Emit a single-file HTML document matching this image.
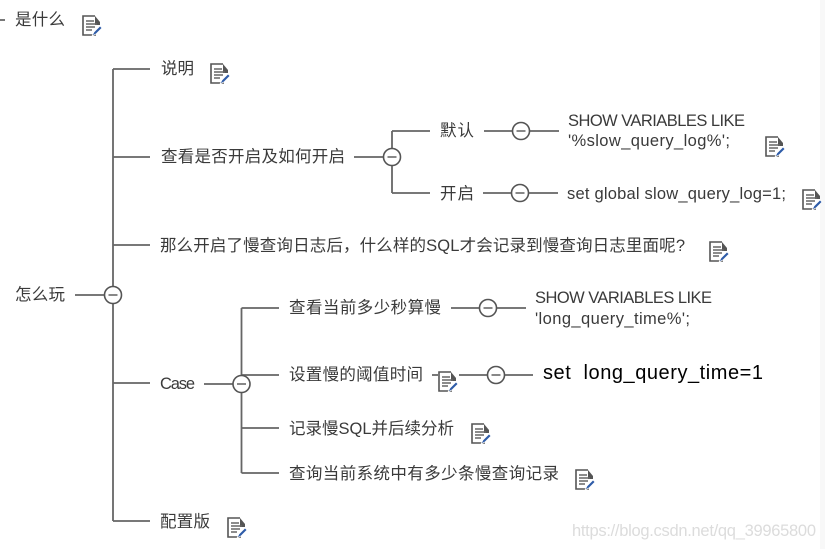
<!DOCTYPE html>
<html><head><meta charset="utf-8"><style>
html,body{margin:0;padding:0;background:#fff;width:825px;height:549px;overflow:hidden}
svg{display:block}
text{font-family:"Liberation Sans","Noto Sans CJK SC",sans-serif;font-size:16.5px;fill:#3a3a3a}
.l{stroke:#666;stroke-width:1.8;fill:none}
.c{fill:#fff;stroke:#555;stroke-width:1.6}
.m{stroke:#555;stroke-width:1.4}
</style></head><body>
<svg width="825" height="549" viewBox="0 0 825 549" xmlns="http://www.w3.org/2000/svg">
<defs>
<g id="i">
<path d="M13 1H1V20H14" fill="#fff" stroke="#555" stroke-width="1.6"/>
<path d="M13 1L18 7V10H13Z" fill="#555"/>
<path d="M4 6H12M4 9H15M4 12H13M4 15H10" stroke="#666" stroke-width="1.4"/>
<path d="M10 21L12 17L18 11L20 13L14 19Z" fill="#2f5ca8" stroke="#fff" stroke-width=".7"/>
</g>
<g id="n"><circle r="8.5" class="c"/><path d="M-4.5 0H4.5" class="m"/></g>
</defs>
<rect x="820" y="0" width="5" height="549" fill="#f8f8f8"/>

<path class="l" d="M0 20H5M75 295H104M113 69V521M113 69H150M113 157H150M113 245H150M113 383H150M113 521H150"/>
<path class="l" d="M354 157H384M392 131V193M392 131H430M392 193H430M484 131H513M530 131H559M483 193H512M529 193H558"/>
<path class="l" d="M204 384H233M241.500 308V473M241.500 308H279M241.500 375H279M241.500 428H279M241.500 473H279M451 308H480M497 308H526M432 375H438M459 375H487M505 375H533"/>

<use href="#n" x="113" y="295"/>
<use href="#n" x="392" y="157"/>
<use href="#n" x="521" y="131"/>
<use href="#n" x="520" y="193"/>
<use href="#n" x="241.500" y="384"/>
<use href="#n" x="488" y="308"/>
<use href="#n" x="496" y="375"/>

<text x="15" y="25" textLength="50">是什么</text>
<text x="15" y="300" textLength="50">怎么玩</text>
<text x="161" y="74" textLength="33">说明</text>
<text x="161" y="162" textLength="184">查看是否开启及如何开启</text>
<text x="160" y="251" textLength="525">那么开启了慢查询日志后，什么样的SQL才会记录到慢查询日志里面呢?</text>
<text x="160" y="389" textLength="35">Case</text>
<text x="160" y="527" textLength="50">配置版</text>
<text x="440" y="136" textLength="34">默认</text>
<text x="440" y="199" textLength="34">开启</text>
<text x="568" y="126" textLength="177">SHOW VARIABLES LIKE</text>
<text x="568" y="146" textLength="162">'%slow_query_log%';</text>
<text x="567" y="199" textLength="219">set global slow_query_log=1;</text>
<text x="289" y="313" textLength="152">查看当前多少秒算慢</text>
<text x="535" y="303" textLength="177">SHOW VARIABLES LIKE</text>
<text x="535" y="324" textLength="155">'long_query_time%';</text>
<text x="289" y="380" textLength="134">设置慢的阈值时间</text>
<text x="289" y="434" textLength="165">记录慢SQL并后续分析</text>
<text x="289" y="479" textLength="270">查询当前系统中有多少条慢查询记录</text>
<text x="543" y="379" textLength="220" style="font-size:20px;fill:#000">set&#160;&#160;long_query_time=1</text>
<text x="572" y="536" textLength="244" style="font-size:16.500px;fill:#dcdcdc">https://blog.csdn.net/qq_39965800</text>

<use href="#i" x="82" y="15"/>
<use href="#i" x="210" y="63"/>
<use href="#i" x="765" y="136"/>
<use href="#i" x="802" y="189"/>
<use href="#i" x="709" y="241"/>
<use href="#i" x="438" y="371"/>
<use href="#i" x="471" y="423"/>
<use href="#i" x="575" y="469"/>
<use href="#i" x="227" y="517"/>
</svg>
</body></html>
